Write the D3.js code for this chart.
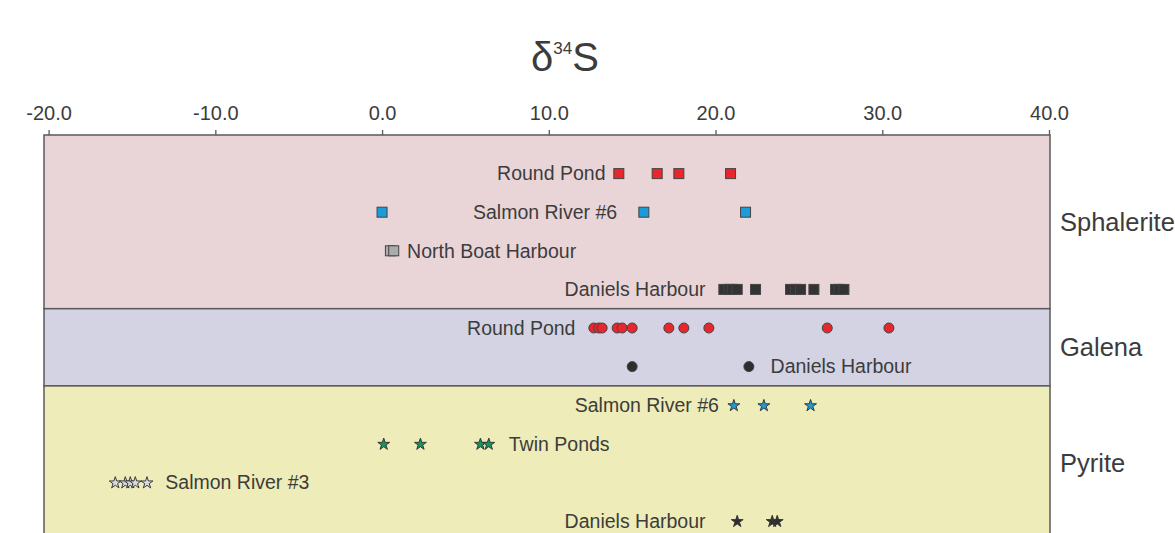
<!DOCTYPE html>
<html>
<head>
<meta charset="utf-8">
<script src="https://cdn.jsdelivr.net/npm/d3@7"></script>
<style>
  body { margin: 0; background: #fff; }
  svg text { font-family: 'Liberation Sans', Arial, sans-serif; fill: #3c3c3c; }
</style>
</head>
<body>
<svg id="chart" width="1175" height="533"></svg>
<script>
// tick values of the delta 34S axis
const xTicks = [-20, -10, 0, 10, 20, 30, 40];
const minerals = ['Sphalerite', 'Galena', 'Pyrite'];

// sphalerite (squares)
const sphRoundPond = [14.2, 16.5, 17.8, 20.9];
const sphSalmonRiver6 = [0.0, 15.7, 21.8];
const sphNorthBoat = [0.5, 0.7];
const sphDaniels = [20.5, 20.8, 21.0, 21.3, 22.4, 24.5, 24.8, 25.1, 25.9, 27.2, 27.4, 27.7];

// galena (circles)
const galRoundPond = [12.7, 13.0, 13.2, 14.1, 14.4, 15.0, 17.2, 18.1, 19.6, 26.7, 30.4];
const galDaniels = [15.0, 22.0];

// pyrite (stars)
const pyrSalmonRiver6 = [21.1, 22.9, 25.7];
const pyrTwinPonds = [0.1, 2.3, 5.9, 6.4];
const pyrSalmonRiver3 = [-16.0, -15.4, -15.1, -14.8, -14.1];
const pyrDaniels = [21.3, 23.4, 23.7];

// where each label sits on the delta 34S axis, and which side it hangs from
const labelAt = [13.4, 14.1, 1.5, 19.4, 11.6, 23.3, 20.2, 7.6, -13.0, 19.4];
const labelSide = ['end', 'end', 'start', 'end', 'end', 'start', 'end', 'start', 'start', 'end'];

const rows = [
    { mineral: 'Sphalerite', name: 'Round Pond', shape: 'square', fill: '#e8262d', values: sphRoundPond },
    { mineral: 'Sphalerite', name: 'Salmon River #6', shape: 'square', fill: '#1b9bd8', values: sphSalmonRiver6 },
    { mineral: 'Sphalerite', name: 'North Boat Harbour', shape: 'square', fill: '#ababab', values: sphNorthBoat },
    { mineral: 'Sphalerite', name: 'Daniels Harbour', shape: 'square', fill: '#333333', values: sphDaniels },
    { mineral: 'Galena', name: 'Round Pond', shape: 'circle', fill: '#e8262d', values: galRoundPond },
    { mineral: 'Galena', name: 'Daniels Harbour', shape: 'circle', fill: '#2e2e2e', values: galDaniels },
    { mineral: 'Pyrite', name: 'Salmon River #6', shape: 'star', fill: '#1b9bd8', values: pyrSalmonRiver6 },
    { mineral: 'Pyrite', name: 'Twin Ponds', shape: 'star', fill: '#13955c', values: pyrTwinPonds },
    { mineral: 'Pyrite', name: 'Salmon River #3', shape: 'star', fill: '#d9d9e2', values: pyrSalmonRiver3 },
    { mineral: 'Pyrite', name: 'Daniels Harbour', shape: 'star', fill: '#2e2e2e', values: pyrDaniels },
].map((r, i) => ({ ...r, slot: i + 1, labelAt: labelAt[i], anchor: labelSide[i] }));

const bandFill = { Sphalerite: '#e9d5d8', Galena: '#d3d3e3', Pyrite: '#eeecb8' };

// band extents in row slots
const bands = [];
let start = 0;
minerals.forEach(m => {
    const last = d3.max(rows.filter(r => r.mineral === m), r => r.slot);
    bands.push({ mineral: m, from: start, to: last + 0.5 });
    start = last + 0.5;
});

const svg = d3.select('#chart');
const x = d3.scaleLinear().domain([-20, 40]).range([48.6, 1049]);
const y = d3.scaleLinear().domain([0, 10.5]).range([135, 540.3]);
const frameLeft = 44;
const frameRight = 1050;

// title
const title = svg.append('text')
    .attr('x', 565)
    .attr('y', 71)
    .attr('text-anchor', 'middle')
    .style('font-size', '40px');
title.append('tspan').text('δ');
title.append('tspan').attr('dy', -17).style('font-size', '17px').text('34');
title.append('tspan').attr('dy', 17).text('S');

// bands
svg.append('g')
    .selectAll('rect')
    .data(bands)
    .join('rect')
    .attr('x', frameLeft)
    .attr('width', frameRight - frameLeft)
    .attr('y', d => y(d.from))
    .attr('height', d => y(d.to) - y(d.from))
    .attr('fill', d => bandFill[d.mineral])
    .attr('stroke', '#5a5a5a')
    .attr('stroke-width', 1.5);

svg.append('g')
    .selectAll('text')
    .data(bands)
    .join('text')
    .attr('x', 1060)
    .attr('y', d => (y(d.from) + y(Math.min(d.to, 10.5))) / 2)
    .attr('dy', '0.35em')
    .style('font-size', '25.5px')
    .text(d => d.mineral);

// axis on top
const axis = svg.append('g')
    .attr('transform', `translate(0, ${y(0)})`)
    .call(d3.axisTop(x).tickValues(xTicks).tickSize(5).tickSizeOuter(0).tickFormat(d => d.toFixed(1)));
axis.select('.domain').remove();
axis.selectAll('.tick line').attr('stroke', '#5a5a5a').attr('stroke-width', 1.3);
axis.selectAll('.tick text')
    .attr('y', -15)
    .style('font-size', '20px')
    .style('font-family', "'Liberation Sans', Arial, sans-serif")
    .attr('fill', '#3c3c3c');

// markers
const star = d3.symbol().type(d3.symbolStar).size(44);
const points = rows.flatMap(r => r.values.map(v => ({ ...r, v })));
const marks = svg.append('g');

marks.selectAll('rect')
    .data(points.filter(p => p.shape === 'square'))
    .join('rect')
    .attr('x', d => x(d.v) - 5)
    .attr('y', d => y(d.slot) - 5)
    .attr('width', 10)
    .attr('height', 10)
    .attr('fill', d => d.fill)
    .attr('stroke', '#444')
    .attr('stroke-width', 1);

marks.selectAll('circle')
    .data(points.filter(p => p.shape === 'circle'))
    .join('circle')
    .attr('cx', d => x(d.v))
    .attr('cy', d => y(d.slot))
    .attr('r', 5)
    .attr('fill', d => d.fill)
    .attr('stroke', '#444')
    .attr('stroke-width', 1);

marks.selectAll('path')
    .data(points.filter(p => p.shape === 'star'))
    .join('path')
    .attr('transform', d => `translate(${x(d.v)}, ${y(d.slot) + 0.5})`)
    .attr('d', star)
    .attr('fill', d => d.fill)
    .attr('stroke', '#3a3a3a')
    .attr('stroke-width', 1);

// row labels
svg.append('g')
    .selectAll('text')
    .data(rows)
    .join('text')
    .attr('x', d => x(d.labelAt))
    .attr('y', d => y(d.slot))
    .attr('dy', '0.35em')
    .attr('text-anchor', d => d.anchor)
    .style('font-size', '19.5px')
    .text(d => d.name);
</script>
</body>
</html>
